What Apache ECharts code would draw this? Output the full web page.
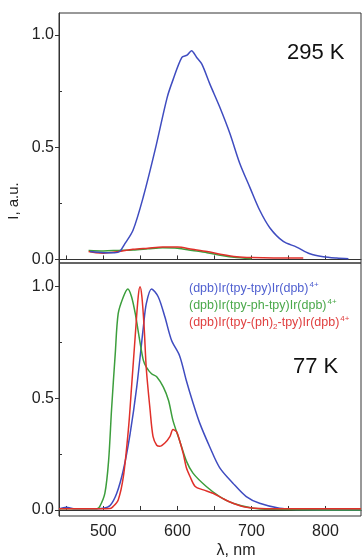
<!DOCTYPE html>
<html><head><meta charset="utf-8">
<script src="https://cdn.jsdelivr.net/npm/echarts@6/dist/echarts.min.js"></script>
<style>html,body{margin:0;padding:0;background:#fff}#c{width:362px;height:558px}</style>
</head><body><div id="c"></div>
<script>
// ---- Data ----
var xTickLabels = [500, 600, 700, 800];
var xTickMarks = [450, 500, 550, 600, 650, 700, 750, 800, 850];
var yTickLabels = [0, 0.5, 1.0];
var yMinorTicks = [0.25, 0.75];

// 295 K panel
var rtBlueX = [482, 500, 515, 522, 529, 540, 554, 570, 586, 594, 606, 613, 619, 626, 633, 644, 657, 671, 684, 698, 711, 725, 743, 761, 779, 797, 815, 831];
var rtBlueY = [0.035, 0.03, 0.03, 0.035, 0.07, 0.13, 0.28, 0.49, 0.72, 0.80, 0.90, 0.91, 0.93, 0.90, 0.87, 0.78, 0.68, 0.56, 0.43, 0.32, 0.22, 0.14, 0.08, 0.055, 0.025, 0.012, 0.006, 0.003];
var rtGreenX = [480, 500, 520, 540, 560, 580, 600, 620, 640, 660, 680, 700];
var rtGreenY = [0.04, 0.038, 0.04, 0.042, 0.047, 0.052, 0.05, 0.04, 0.03, 0.017, 0.008, 0.003];
var rtRedX = [480, 490, 500, 520, 540, 560, 580, 600, 620, 640, 660, 680, 700, 730, 770];
var rtRedY = [0.035, 0.03, 0.028, 0.035, 0.045, 0.05, 0.055, 0.055, 0.045, 0.035, 0.022, 0.012, 0.008, 0.006, 0.006];

// 77 K panel
var ltBlueX = [440, 450, 460, 480, 500, 509, 518, 527, 536, 545, 554, 558, 565, 574, 583, 592, 603, 612, 621, 630, 644, 657, 675, 693, 711, 738, 765, 800, 848];
var ltBlueY = [0.005, 0.012, 0.005, 0.005, 0.008, 0.02, 0.075, 0.18, 0.34, 0.55, 0.82, 0.925, 0.99, 0.955, 0.865, 0.76, 0.69, 0.58, 0.48, 0.39, 0.28, 0.19, 0.12, 0.06, 0.03, 0.008, 0.002, 0.0, 0.0];
var ltGreenX = [440, 470, 491, 495, 502, 507, 511, 516, 520, 527, 533, 538, 543, 549, 554, 558, 565, 572, 581, 588, 594, 603, 612, 621, 639, 657, 675, 702, 730, 800, 848];
var ltGreenY = [0.005, 0.005, 0.006, 0.015, 0.075, 0.22, 0.45, 0.70, 0.88, 0.955, 0.99, 0.955, 0.88, 0.76, 0.67, 0.64, 0.61, 0.597, 0.55, 0.49, 0.40, 0.31, 0.22, 0.165, 0.105, 0.06, 0.03, 0.008, 0.003, 0.0, 0.0];
var ltRedX = [440, 480, 509, 513, 520, 527, 534, 538, 543, 547, 549.5, 552, 555, 558, 563, 567, 572, 576, 583, 590, 594, 599, 603, 608, 612, 617, 624, 635, 648, 662, 675, 693, 720, 780, 848];
var ltRedY = [0.005, 0.005, 0.007, 0.015, 0.045, 0.15, 0.37, 0.55, 0.78, 0.955, 1.0, 0.955, 0.82, 0.63, 0.45, 0.33, 0.29, 0.285, 0.30, 0.33, 0.36, 0.35, 0.31, 0.25, 0.19, 0.15, 0.105, 0.09, 0.075, 0.05, 0.03, 0.012, 0.006, 0.005, 0.005];

var legendLabels = ['(dpb)Ir(tpy-tpy)Ir(dpb)', '(dpb)Ir(tpy-ph-tpy)Ir(dpb)', ['(dpb)Ir(tpy-(ph)', '2', '-tpy)Ir(dpb)']];
var tempLabels = ['295 K', '77 K'];

// ---- Styles ----
var FONT = '"Liberation Sans", Arial, sans-serif';
var BLUE = '#3f4cc0', GREEN = '#3c9e3c', RED = '#e0302a';
var AX = '#333';

function pairs(xs, ys) { return xs.map(function (x, i) { return [x, ys[i]]; }); }

function line(name, xs, ys, color, idx) {
  return {
    name: name, type: 'line', xAxisIndex: idx, yAxisIndex: idx * 2,
    data: pairs(xs, ys), showSymbol: false, smooth: 0.3,
    lineStyle: { color: color, width: 1.5 }, itemStyle: { color: color },
    z: 3
  };
}

function xAxis(grid, showLabels) {
  return {
    type: 'value', gridIndex: grid, min: 440, max: 848,
    axisLine: { show: true, lineStyle: { color: AX, width: 1 } },
    splitLine: { show: false },
    axisTick: { show: true, inside: true, length: 4, customValues: xTickMarks, lineStyle: { color: AX } },
    axisLabel: { show: showLabels, customValues: xTickLabels, fontSize: 16, color: '#222', fontFamily: FONT, margin: 8 }
  };
}
function yAxes(grid, min, max) {
  return [{
    type: 'value', gridIndex: grid, min: min, max: max, position: 'left',
    axisLine: { show: true, lineStyle: { color: AX, width: 1 } },
    splitLine: { show: false },
    axisTick: { show: true, inside: false, length: 4, customValues: yTickLabels, lineStyle: { color: AX } },
    axisLabel: { customValues: yTickLabels, fontSize: 16, color: '#222', fontFamily: FONT, margin: 5,
      formatter: function (v) { return v.toFixed(1); } }
  }, {
    type: 'value', gridIndex: grid, min: min, max: max, position: 'left',
    axisLine: { show: false }, splitLine: { show: false },
    axisTick: { show: true, inside: true, length: 3, customValues: yMinorTicks, lineStyle: { color: AX } },
    axisLabel: { show: false }
  }];
}

var chart = echarts.init(document.getElementById('c'), null, { renderer: 'canvas' });
chart.setOption({
  animation: false,
  backgroundColor: '#fff',
  grid: [
    { left: 59, top: 13, width: 302, height: 250, show: true, borderColor: AX, borderWidth: 1, backgroundColor: 'transparent' },
    { left: 59, top: 263, width: 302, height: 253, show: true, borderColor: AX, borderWidth: 1, backgroundColor: 'transparent' }
  ],
  xAxis: [xAxis(0, false), xAxis(1, true)],
  yAxis: yAxes(0, -0.016, 1.098).concat(yAxes(1, -0.027, 1.106)),
  series: [
    line('rtGreen', rtGreenX, rtGreenY, GREEN, 0),
    line('rtRed', rtRedX, rtRedY, RED, 0),
    line('rtBlue', rtBlueX, rtBlueY, BLUE, 0),
    line('ltBlue', ltBlueX, ltBlueY, BLUE, 1),
    line('ltGreen', ltGreenX, ltGreenY, GREEN, 1),
    line('ltRed', ltRedX, ltRedY, RED, 1)
  ],
  graphic: [
    { type: 'text', left: 287, top: 42, style: { text: tempLabels[0], fontSize: 22, fontFamily: FONT, fill: '#111' } },
    { type: 'text', left: 293, top: 356, style: { text: tempLabels[1], fontSize: 22, fontFamily: FONT, fill: '#111' } },
    { type: 'text', x: 14, y: 201, rotation: Math.PI / 2,
      style: { text: 'I, a.u.', fontSize: 15, fontFamily: FONT, fill: '#222', align: 'center', verticalAlign: 'middle' } },
    { type: 'text', x: 236, y: 551, style: { text: 'λ, nm', fontSize: 16, fontFamily: FONT, fill: '#222', align: 'center', verticalAlign: 'middle' } },
    { type: 'text', x: 189, y: 289, style: {
        text: '{a|' + legendLabels[0] + '}{s|4+}', fill: BLUE, fontFamily: FONT, verticalAlign: 'middle',
        rich: { a: { fontSize: 12.5, fill: '#5060d0', fontFamily: FONT }, s: { fontSize: 8, fill: '#5060d0', fontFamily: FONT, verticalAlign: 'top', padding: [0, 0, 8, 1] } } } },
    { type: 'text', x: 189, y: 306, style: {
        text: '{a|' + legendLabels[1] + '}{s|4+}', fill: GREEN, fontFamily: FONT, verticalAlign: 'middle',
        rich: { a: { fontSize: 12.5, fill: '#4aa84a', fontFamily: FONT }, s: { fontSize: 8, fill: '#4aa84a', fontFamily: FONT, verticalAlign: 'top', padding: [0, 0, 8, 1] } } } },
    { type: 'text', x: 189, y: 323, style: {
        text: '{a|' + legendLabels[2][0] + '}{b|' + legendLabels[2][1] + '}{a|' + legendLabels[2][2] + '}{s|4+}', fill: RED, fontFamily: FONT, verticalAlign: 'middle',
        rich: { a: { fontSize: 12.5, fill: '#e04040', fontFamily: FONT }, b: { fontSize: 8, fill: '#e04040', fontFamily: FONT, padding: [8, 0, 0, 0] }, s: { fontSize: 8, fill: '#e04040', fontFamily: FONT, padding: [0, 0, 8, 1] } } } }
  ]
});
</script></body></html>
